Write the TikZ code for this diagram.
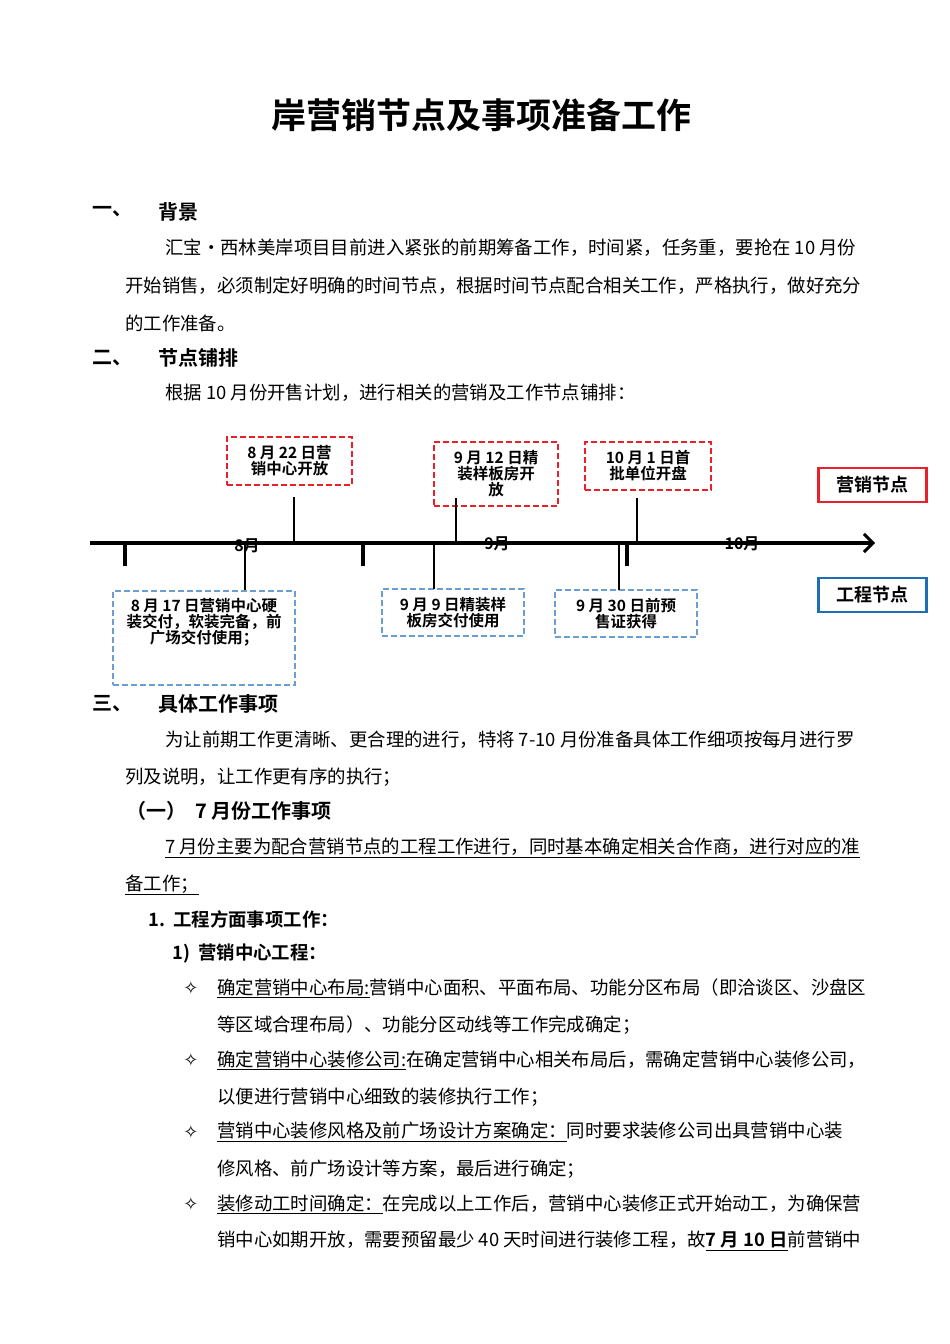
\documentclass[tikz,border=0pt]{standalone}
\usepackage{fontspec}
\setmainfont{Noto Sans CJK SC}
\newfontfamily\cjkb{Noto Sans CJK SC Bold}
\newfontfamily\sym{DejaVu Sans}
\usetikzlibrary{arrows.meta}
\definecolor{rd}{HTML}{E8202A}
\definecolor{bl}{HTML}{6C9FD1}
\definecolor{lb}{HTML}{1F6DB5}
\newcommand{\fs}{\fontsize{18.4}{20}\selectfont}
\newcommand{\ul}[1]{\underline{#1}}
\begin{document}
\begin{tikzpicture}[x=1pt,y=-1pt,
  tx/.style={anchor=west,inner sep=0pt,font=\fs},
  hd/.style={anchor=west,inner sep=0pt,font=\fontsize{20}{22}\selectfont\cjkb},
  rbox/.style={draw=rd,dashed,line width=2pt,dash pattern=on 6pt off 3pt,align=center,font=\fontsize{15.5}{16}\selectfont\cjkb,inner sep=2pt},
  bbox/.style={draw=bl,dashed,line width=2pt,dash pattern=on 6pt off 3pt,align=center,font=\fontsize{15.5}{16}\selectfont\cjkb,inner sep=2pt},
  conn/.style={line width=1.2pt},
  mon/.style={font=\fontsize{16}{17}\selectfont\cjkb,inner sep=0pt}]
\useasboundingbox (0,0) rectangle (950,1344);
\fill[white] (0,0) rectangle (950,1344);
\node[inner sep=0pt,font=\fontsize{35}{38}\selectfont\cjkb] (title) at (481,115) {岸营销节点及事项准备工作};
\node[hd] (h1) at (92,212) {一、};
\node[hd] (h1b) at (158,212) {背景};
\node[tx] (p1) at (165,248) {汇宝·西林美岸项目目前进入紧张的前期筹备工作，时间紧，任务重，要抢在 10 月份};
\node[tx] (p2) at (125,286) {开始销售，必须制定好明确的时间节点，根据时间节点配合相关工作，严格执行，做好充分};
\node[tx] (p3) at (125,323) {的工作准备。};
\node[hd] (h2) at (92,358) {二、};
\node[hd] (h2b) at (158,358) {节点铺排};
\node[tx] (p4) at (165,393) {根据 10 月份开售计划，进行相关的营销及工作节点铺排：};
% timeline
\coordinate (a0) at (90,543);
\coordinate (a1) at (875,543);
\draw[line width=4.5pt,-{Straight Barb[length=9pt,width=18pt,line width=3pt]}] (a0) -- (a1);
\foreach \x in {125,363,627}{\draw[line width=3.5pt] (\x,541) -- (\x,566);}
\node[mon] (m8) at (247,546) {8月};
\node[mon] (m9) at (497,544) {9月};
\node[mon] (m10) at (742,544) {10月};
\node[rbox,minimum width=125pt,minimum height=48pt] (r1) at (289.5,461) {8 月 22 日营\\销中心开放};
\node[rbox,minimum width=124pt,minimum height=64pt] (r2) at (496,474) {9 月 12 日精\\装样板房开\\放};
\node[rbox,minimum width=126pt,minimum height=48pt] (r3) at (648,466) {10 月 1 日首\\批单位开盘};
\node[bbox,minimum width=182pt,minimum height=94pt,anchor=north] (b1) at (204,590) {};
\node[align=center,font=\fontsize{15.5}{16}\selectfont\cjkb,inner sep=0pt,anchor=north] (b1t) at (204,598) {8 月 17 日营销中心硬\\装交付，软装完备，前\\广场交付使用；};
\node[bbox,minimum width=142pt,minimum height=47pt] (b2) at (453,612.5) {9 月 9 日精装样\\板房交付使用};
\node[bbox,minimum width=142pt,minimum height=47pt] (b3) at (626,613.5) {9 月 30 日前预\\售证获得};
\coordinate (c1) at (294,543); \draw[conn] (294,497) -- (c1);
\coordinate (c2) at (456,543); \draw[conn] (456,498) -- (c2);
\coordinate (c3) at (637,543); \draw[conn] (637,498) -- (c3);
\coordinate (d1) at (245,543); \draw[conn] (d1) -- (245,590);
\coordinate (d2) at (434,543); \draw[conn] (d2) -- (434,589);
\coordinate (d3) at (619,543); \draw[conn] (d3) -- (619,590);
\node[draw=rd,line width=2.5pt,minimum width=108pt,minimum height=34pt,font=\fontsize{18}{19}\selectfont\cjkb] (lg1) at (872.5,485) {营销节点};
\node[draw=lb,line width=2.5pt,minimum width=108pt,minimum height=34pt,font=\fontsize{18}{19}\selectfont\cjkb] (lg2) at (872.5,595) {工程节点};
% section 3
\node[hd] (h3) at (92,704) {三、};
\node[hd] (h3b) at (158,704) {具体工作事项};
\node[tx] (p5) at (165,740) {为让前期工作更清晰、更合理的进行，特将 7-10 月份准备具体工作细项按每月进行罗};
\node[tx] (p6) at (125,777) {列及说明，让工作更有序的执行；};
\node[hd] (h4) at (126,811) {（一）\ \ 7 月份工作事项};
\node[tx] (p7) at (165,848) {\ul{7 月份主要为配合营销节点的工程工作进行，同时基本确定相关合作商，进行对应的准}};
\node[tx] (p8) at (125,885) {\ul{备工作；}};
\node[tx,font=\fs\cjkb] (h5) at (148,919) {1.\ \ 工程方面事项工作：};
\node[tx,font=\fs\cjkb] (h6) at (172,954) {1)\ \ 营销中心工程：};
\foreach \y in {988,1060,1132,1204}{\node[inner sep=0pt,font=\fontsize{18}{18}\sym] at (191,\y) {✧};}
\node[tx] (q1) at (217,988) {\ul{确定营销中心布局:}营销中心面积、平面布局、功能分区布局（即洽谈区、沙盘区};
\node[tx] (q2) at (217,1025) {等区域合理布局）、功能分区动线等工作完成确定；};
\node[tx] (q3) at (217,1060) {\ul{确定营销中心装修公司:}在确定营销中心相关布局后，需确定营销中心装修公司，};
\node[tx] (q4) at (217,1097) {以便进行营销中心细致的装修执行工作；};
\node[tx] (q5) at (217,1132) {\ul{营销中心装修风格及前广场设计方案确定：}同时要求装修公司出具营销中心装};
\node[tx] (q6) at (217,1169) {修风格、前广场设计等方案，最后进行确定；};
\node[tx] (q7) at (217,1204) {\ul{装修动工时间确定：}在完成以上工作后，营销中心装修正式开始动工，为确保营};
\node[tx] (q8) at (217,1241) {销中心如期开放，需要预留最少 40 天时间进行装修工程，故{\cjkb\ul{7 月 10 日}}前营销中};
\end{tikzpicture}
\end{document}
